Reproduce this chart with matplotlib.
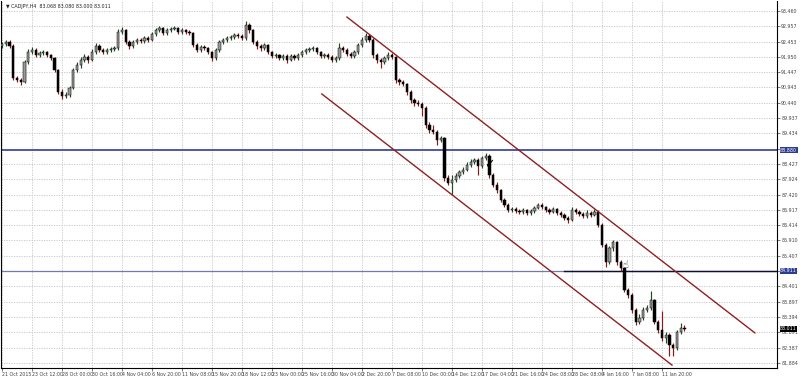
import numpy as np
import matplotlib
matplotlib.use('Agg')
import matplotlib.pyplot as plt

# CADJPY H4, each candle here = 2 H4 bars
closes = [92.37, 92.44, 92.31, 91.26, 91.19, 91.12, 91.78, 92.11, 92.18, 92.01,
          92.08, 92.11, 92.01, 91.91, 91.52, 90.80, 90.66, 90.70, 90.93, 91.52,
          91.68, 91.85, 91.95, 91.85, 92.11, 92.31, 92.18, 92.11, 92.18, 92.21,
          92.24, 92.77, 92.83, 92.44, 92.31, 92.44, 92.51, 92.47, 92.57, 92.51,
          92.70, 92.83, 92.90, 92.74, 92.83, 92.87, 92.90, 92.77, 92.83, 92.77,
          92.74, 92.34, 92.18, 92.28, 92.24, 92.11, 91.91, 92.18, 92.44, 92.51,
          92.57, 92.60, 92.67, 92.64, 92.57, 93.00, 92.83, 92.44, 92.31, 92.24,
          92.34, 92.11, 91.98, 92.01, 91.91, 91.98, 91.85, 91.98, 91.91, 92.01,
          92.11, 92.18, 92.21, 92.24, 92.11, 91.98, 92.01, 91.95, 91.85, 91.91,
          92.24, 92.18, 92.05, 91.98, 92.11, 92.34, 92.51, 92.64, 92.51, 92.01,
          91.85, 91.78, 91.91, 92.01, 91.95, 91.19, 91.12, 91.06, 90.80, 90.53,
          90.43, 90.40, 90.27, 89.71, 89.55, 89.48, 89.22, 89.28, 87.97, 87.81,
          87.90, 88.03, 88.16, 88.23, 88.39, 88.49, 88.56, 88.36, 88.62, 88.69,
          88.06, 87.74, 87.57, 87.24, 87.08, 86.91, 86.95, 86.88, 86.85, 86.91,
          86.81, 86.88, 86.98, 87.08, 87.01, 86.91, 86.85, 86.95, 86.81, 86.75,
          86.65, 86.58, 86.91, 86.85, 86.78, 86.71, 86.81, 86.75, 86.85, 86.42,
          85.76, 85.20, 85.66, 85.86, 85.20, 85.00, 84.28, 84.12, 83.62, 83.23,
          83.36, 83.62, 83.69, 83.95, 83.23, 82.96, 82.70, 82.80, 82.47, 82.37,
          82.90, 83.03, 83.01]
highs = [92.45, 92.52, 92.50, 92.36, 91.33, 91.25, 91.85, 92.20, 92.27, 92.24,
         92.15, 92.18, 92.16, 92.06, 91.96, 91.56, 90.88, 90.78, 91.00, 91.60,
         91.78, 91.94, 92.04, 92.02, 92.20, 92.40, 92.36, 92.24, 92.25, 92.28,
         92.32, 92.86, 92.92, 92.88, 92.50, 92.52, 92.58, 92.57, 92.64, 92.63,
         92.77, 92.91, 92.98, 92.95, 92.90, 92.94, 92.97, 92.95, 92.90, 92.88,
         92.83, 92.78, 92.40, 92.35, 92.33, 92.29, 92.16, 92.25, 92.52, 92.58,
         92.64, 92.68, 92.74, 92.73, 92.70, 93.12, 93.06, 92.88, 92.50, 92.38,
         92.42, 92.39, 92.16, 92.08, 92.06, 92.05, 92.03, 92.05, 92.04, 92.08,
         92.18, 92.25, 92.28, 92.31, 92.29, 92.16, 92.08, 92.07, 92.00, 91.98,
         92.40, 92.30, 92.24, 92.10, 92.19, 92.42, 92.60, 92.74, 92.70, 92.56,
         92.08, 91.92, 91.98, 92.10, 92.08, 91.99, 91.27, 91.20, 91.10, 90.86,
         90.60, 90.52, 90.47, 90.32, 89.80, 89.70, 89.56, 89.36, 89.32, 88.05,
         88.05, 88.12, 88.24, 88.32, 88.48, 88.58, 88.64, 88.62, 88.70, 88.78,
         88.74, 88.12, 87.82, 87.62, 87.30, 87.14, 87.02, 87.01, 86.95, 86.98,
         86.96, 86.95, 87.05, 87.15, 87.13, 87.06, 86.97, 87.02, 86.99, 86.88,
         86.80, 86.72, 87.01, 86.98, 86.92, 86.84, 86.90, 86.88, 86.95, 86.90,
         86.48, 85.82, 85.74, 85.94, 85.90, 85.28, 85.05, 84.36, 84.18, 83.70,
         83.48, 83.72, 83.80, 84.26, 84.00, 83.30, 83.60, 82.90, 82.86, 82.55,
         82.98, 83.18, 83.12]
lows = [92.24, 92.30, 92.25, 91.18, 91.12, 91.02, 91.08, 91.72, 92.04, 91.95,
        91.94, 92.02, 91.94, 91.84, 91.45, 90.72, 90.58, 90.60, 90.64, 90.88,
        91.45, 91.60, 91.78, 91.76, 91.80, 92.05, 92.10, 92.04, 92.05, 92.12,
        92.15, 92.18, 92.70, 92.36, 92.22, 92.25, 92.38, 92.40, 92.42, 92.45,
        92.46, 92.64, 92.77, 92.68, 92.68, 92.78, 92.82, 92.71, 92.71, 92.70,
        92.67, 92.27, 92.10, 92.12, 92.17, 92.03, 91.82, 91.86, 92.12, 92.38,
        92.45, 92.50, 92.54, 92.57, 92.50, 92.52, 92.75, 92.36, 92.22, 92.16,
        92.18, 92.04, 91.90, 91.92, 91.84, 91.85, 91.76, 91.80, 91.85, 91.86,
        91.96, 92.05, 92.12, 92.15, 92.05, 91.91, 91.92, 91.88, 91.78, 91.79,
        91.86, 92.10, 91.98, 91.90, 91.92, 92.06, 92.28, 92.45, 92.44, 91.93,
        91.76, 91.60, 91.70, 91.85, 91.88, 91.10, 91.04, 90.98, 90.70, 90.44,
        90.35, 90.32, 90.00, 89.62, 89.45, 89.40, 89.04, 89.14, 87.88, 87.72,
        87.40, 87.84, 87.96, 88.10, 88.18, 88.32, 88.42, 88.05, 88.30, 88.55,
        87.98, 87.66, 87.48, 87.16, 87.00, 86.84, 86.85, 86.80, 86.78, 86.79,
        86.74, 86.75, 86.83, 86.93, 86.95, 86.85, 86.78, 86.80, 86.74, 86.68,
        86.58, 86.50, 86.54, 86.78, 86.70, 86.64, 86.66, 86.68, 86.70, 86.35,
        85.68, 85.05, 85.14, 85.58, 85.12, 84.90, 84.20, 84.02, 83.52, 83.12,
        83.15, 83.30, 83.55, 83.62, 83.15, 82.86, 82.60, 82.55, 82.12, 82.10,
        82.30, 82.84, 82.93]
first_open = 92.30

time_labels = ['21 Oct 2015', '23 Oct 12:00', '28 Oct 00:00', '30 Oct 16:00',
               '4 Nov 04:00', '6 Nov 20:00', '11 Nov 08:00', '15 Nov 20:00',
               '18 Nov 12:00', '23 Nov 00:00', '25 Nov 16:00', '30 Nov 04:00',
               '2 Dec 20:00', '7 Dec 08:00', '10 Dec 00:00', '14 Dec 12:00',
               '17 Dec 04:00', '21 Dec 16:00', '24 Dec 08:00', '28 Dec 08:00',
               '4 Jan 16:00', '7 Jan 08:00', '11 Jan 20:00']

# drawn objects: (bar index, price) end points
upper_channel = [(92.0, 93.26), (200.8, 82.87)]
lower_channel = [(85.3, 90.73), (178.7, 81.81)]
hline_blue = 88.880
hline_low = 84.911
hline_low_start = 150
bid = 83.011

opens = [first_open] + closes[:-1]
n = len(closes)
xs = np.arange(n)
fs = 3.4

fig = plt.figure(figsize=(8, 3.76), dpi=100)
ax = fig.add_axes([1 / 800, 8 / 376, 776 / 800, 367 / 376])
ax.set_xlim(-0.27, 206.7)
ax.set_ylim(81.715, 93.789)

# grid
ax.grid(True, color='#c4c4c4', linestyle=(0, (1.5, 1.5)), linewidth=0.6)
ax.set_axisbelow(True)

up = np.array(closes) >= np.array(opens)
wick_col = np.where(up, '#1e4e1e', '#901515')
ax.vlines(xs, lows, highs, colors=wick_col, linewidth=0.85, zorder=3)
body_lo = np.minimum(opens, closes)
body_h = np.abs(np.array(closes) - np.array(opens))
body_h = np.maximum(body_h, 0.025)
ax.bar(xs, body_h, bottom=body_lo, width=0.6,
       color=np.where(up, '#9a9a9a', '#000000'), edgecolor='#000000',
       linewidth=0.35, zorder=4)

# horizontal lines
ax.axhline(hline_blue, color='#5058a2', linewidth=1.4, zorder=2)
ax.axhline(hline_low, color='#7078b6', linewidth=0.9, zorder=2)
ax.plot([hline_low_start, 206.7], [hline_low, hline_low], color='#101030', linewidth=1.0, zorder=2)

# channel
for ch in (upper_channel, lower_channel):
    ax.plot([ch[0][0], ch[1][0]], [ch[0][1], ch[1][1]], color='#8e2020', linewidth=1.0, zorder=5)

ax.text(130.1, 88.39, '\u2713', fontsize=9, ha='center', va='center', zorder=6)
ax.text(166.1, 85.10, '\u261d', fontsize=7, ha='center', va='center', color='#333333', zorder=6)

ax.text(0.006, 0.992, '\u25bc CADJPY,H4  83.068 83.080 83.000 83.011', transform=ax.transAxes,
        fontsize=fs, va='top', ha='left', color='#222222')

# price axis
yticks = np.linspace(81.884, 93.460, 24)
ax.yaxis.tick_right()
ax.set_yticks(yticks)
ax.set_yticklabels(['%.3f' % v for v in yticks])
ax.tick_params(axis='y', labelsize=fs, colors='#444444', length=2, width=0.5, pad=1)

ax.set_xticks(np.arange(len(time_labels)) * 8)
ax.set_xticklabels(time_labels, ha='left')
ax.tick_params(axis='x', labelsize=fs, colors='#444444', length=2, width=0.5, pad=1)

for v, fc in ((hline_blue, '#2c3c94'), (hline_low, '#2c3c94'), (bid, '#000000')):
    ax.annotate('%.3f' % v, xy=(1.0, v), xycoords=('axes fraction', 'data'),
                xytext=(2.2, 0), textcoords='offset points', fontsize=fs, color='white',
                va='center', ha='left',
                bbox=dict(boxstyle='square,pad=0.1', fc=fc, ec='none'))

ax.spines['top'].set_visible(False)
for s in ('left', 'bottom', 'right'):
    ax.spines[s].set_color('#000000')
    ax.spines[s].set_linewidth(0.8)

fig.savefig('out.png', dpi=100)
